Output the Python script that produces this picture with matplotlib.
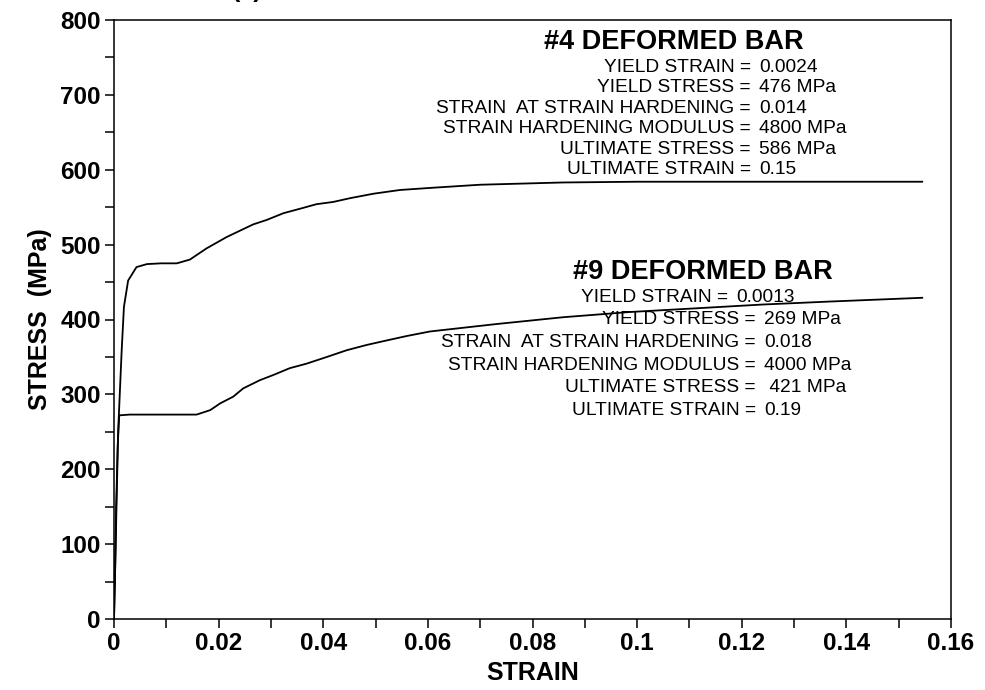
import matplotlib
matplotlib.use("Agg")
from matplotlib import pyplot as plt
from matplotlib.ticker import MultipleLocator

plt.rcParams['font.family'] = ['Liberation Sans', 'DejaVu Sans']

# #4 deformed bar curve (strain, stress MPa)
strain_4 = [0, 0.0003, 0.0005, 0.0008, 0.00147, 0.0019, 0.0027, 0.0043, 0.0063, 0.009,
            0.012, 0.0145, 0.0177, 0.0215, 0.0266, 0.0292, 0.0324, 0.0356, 0.0387, 0.0419,
            0.0451, 0.0496, 0.0547, 0.061, 0.07, 0.0858, 0.10, 0.12, 0.14, 0.1545]
stress_4 = [0, 90, 159, 252, 359, 417, 452, 470, 474, 475,
            475, 480, 495, 510, 527, 533, 542, 548, 554, 557,
            562, 568, 573, 576, 580, 583, 584, 584, 584, 584]

# #9 deformed bar curve
strain_9 = [0, 0.0002, 0.0004, 0.00045, 0.0007, 0.001, 0.003, 0.008, 0.0158, 0.0184,
            0.0203, 0.0228, 0.0247, 0.0279, 0.0305, 0.0336, 0.0368, 0.0407, 0.0445, 0.0483,
            0.0521, 0.056, 0.0604, 0.0732, 0.0858, 0.0986, 0.1114, 0.124, 0.1369, 0.1545]
stress_9 = [0, 60, 150, 160, 230, 272, 273, 273, 273, 279,
            288, 297, 308, 319, 326, 335, 341, 350, 359, 366,
            372, 378, 384, 394, 403, 410, 415, 420, 424, 429]

labels = ["YIELD STRAIN =", "YIELD STRESS =", "STRAIN  AT STRAIN HARDENING =",
          "STRAIN HARDENING MODULUS =", "ULTIMATE STRESS =", "ULTIMATE STRAIN ="]
values_4 = ["0.0024", "476 MPa", "0.014", "4800 MPa", "586 MPa", "0.15"]
values_9 = ["0.0013", "269 MPa", "0.018", "4000 MPa", " 421 MPa", "0.19"]

fig = plt.figure(figsize=(9.85, 6.9), dpi=100)
ax = fig.add_axes([114 / 985, 1 - 619 / 690, (951 - 114) / 985, (619 - 20) / 690])

ax.plot(strain_4, stress_4, color='black', linewidth=1.3)
ax.plot(strain_9, stress_9, color='black', linewidth=1.3)

ax.set_xlim(0, 0.16)
ax.set_ylim(0, 800)
ax.xaxis.set_major_locator(MultipleLocator(0.02))
ax.xaxis.set_minor_locator(MultipleLocator(0.01))
ax.yaxis.set_major_locator(MultipleLocator(100))
ax.yaxis.set_minor_locator(MultipleLocator(50))
ax.set_xticks([0, 0.02, 0.04, 0.06, 0.08, 0.1, 0.12, 0.14, 0.16])
ax.set_xticklabels(["0", "0.02", "0.04", "0.06", "0.08", "0.1", "0.12", "0.14", "0.16"])
ax.tick_params(which='both', direction='out', length=6.5, width=1.1, color='black')
ax.tick_params(which='major', labelsize=17.5, pad=3)
for t in ax.get_xticklabels() + ax.get_yticklabels():
    t.set_fontweight('bold')
for s in ax.spines.values():
    s.set_linewidth(1.1)

ax.set_xlabel("STRAIN", fontsize=18, fontweight='bold', labelpad=4)
ax.set_ylabel("STRESS  (MPa)", fontsize=18, fontweight='bold', labelpad=6)


def px2data(px, py):
    return (px - 114) / 837 * 0.16, (619 - py) / 599 * 800


# annotation blocks; shifts = per-row horizontal offsets in pixels
def block(title, tx, ty, eq_x, row_y, step, values, shifts):
    x, y = px2data(tx, ty)
    ax.text(x, y, title, ha='center', va='center', fontsize=19.5, fontweight='bold')
    for i, (lab, val) in enumerate(zip(labels, values)):
        yy = px2data(0, row_y + i * step)[1]
        ex = eq_x + shifts[i]
        ax.text(px2data(ex, 0)[0], yy, lab, ha='right', va='center', fontsize=13.8)
        ax.text(px2data(ex + 8, 0)[0], yy, val, ha='left', va='center', fontsize=13.8)


block("#4 DEFORMED BAR", 674, 42, 751, 67, 20.6, values_4, [0, 0, 0, 0, 0, 0])
block("#9 DEFORMED BAR", 703, 272, 756, 297, 22.7, values_9, [-28, 0, 0, 0, 0, 0])

fig.text(247 / 985, 1 + 3 / 690, "(a)", ha='center', va='baseline', fontsize=18, fontweight='bold')

fig.savefig("out.png", dpi=100)
